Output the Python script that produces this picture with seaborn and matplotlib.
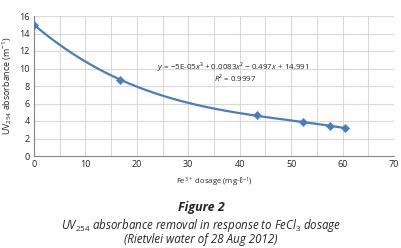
import numpy as np
import pandas as pd
import matplotlib
matplotlib.use("Agg")
import matplotlib.pyplot as plt
import seaborn as sns

# data
dosage = [0, 16.8, 43.4, 52.3, 57.5, 60.5]
absorbance = [15.0, 8.7, 4.65, 3.83, 3.4, 3.25]

x_ticks = [0, 10, 20, 30, 40, 50, 60, 70]
y_ticks = [0, 2, 4, 6, 8, 10, 12, 14, 16]

sns.set_style("white")
plt.rcParams['font.family'] = ['Open Sans', 'DejaVu Sans']
plt.rcParams['mathtext.fontset'] = 'custom'
plt.rcParams['mathtext.rm'] = 'Open Sans'
plt.rcParams['mathtext.it'] = 'Open Sans:italic'
plt.rcParams['mathtext.bf'] = 'Open Sans:bold'

df = pd.DataFrame({'dose': dosage, 'uv': absorbance})

# cubic trendline like the spreadsheet one
coef = np.polyfit(dosage, absorbance, 3)
xs = np.linspace(0, max(dosage), 200)
trend = pd.DataFrame({'dose': xs, 'uv': np.polyval(coef, xs)})

fig = plt.figure(figsize=(4.02, 2.48), dpi=100)
ax = fig.add_axes([34/402, 1 - 156/248, 360/402, 140/248])

blue = '#4a7ebb'
sns.lineplot(data=trend, x='dose', y='uv', ax=ax, color=blue, linewidth=1.6)
sns.scatterplot(data=df, x='dose', y='uv', ax=ax, color=blue, marker='D',
                s=18, edgecolor=blue, zorder=3)

ax.set_xlim(0, 70)
ax.set_ylim(0, 16)
ax.set_xticks(x_ticks)
ax.set_xticks(np.arange(0, 71, 5), minor=True)
ax.set_yticks(y_ticks)
ax.grid(True, which='both', color='#d9d9d9', linewidth=0.8)
ax.set_axisbelow(True)
for s in ['top', 'right']:
    ax.spines[s].set_visible(False)
for s in ['left', 'bottom']:
    ax.spines[s].set_color('#868686')
    ax.spines[s].set_linewidth(0.8)
ax.tick_params(labelsize=6.5, length=0, pad=3, which='both', labelcolor='#222222')
ax.set_xlabel('Fe$^{3+}$ dosage (mg·ℓ$^{-1}$)', fontsize=5.6, labelpad=5)
ax.set_ylabel('UV$_{254}$ absorbance (m$^{-1}$)', fontsize=6.4, labelpad=4)

ax.text(23.9, 10.2, r'$y$ = −5E-05$x$³ + 0.0083$x$² − 0.497$x$ + 14.991',
        fontsize=5.8, ha='left', va='center')
ax.text(39.2, 8.95, r'$R$² = 0.9997', fontsize=5.8, ha='center', va='center')

fig.text(0.5, 1 - 208/248, 'Figure 2', fontsize=9, fontweight='bold',
         style='italic', ha='center', va='center')
fig.text(0.5, 1 - 225/248, r'UV$_{\mathit{254}}$ absorbance removal in response to FeCl$_{\mathit{3}}$ dosage',
         fontsize=8.3, style='italic', ha='center', va='center')
fig.text(0.5, 1 - 240/248, '(Rietvlei water of 28 Aug 2012)',
         fontsize=8.3, style='italic', ha='center', va='center')

fig.savefig('out.png', dpi=100)
